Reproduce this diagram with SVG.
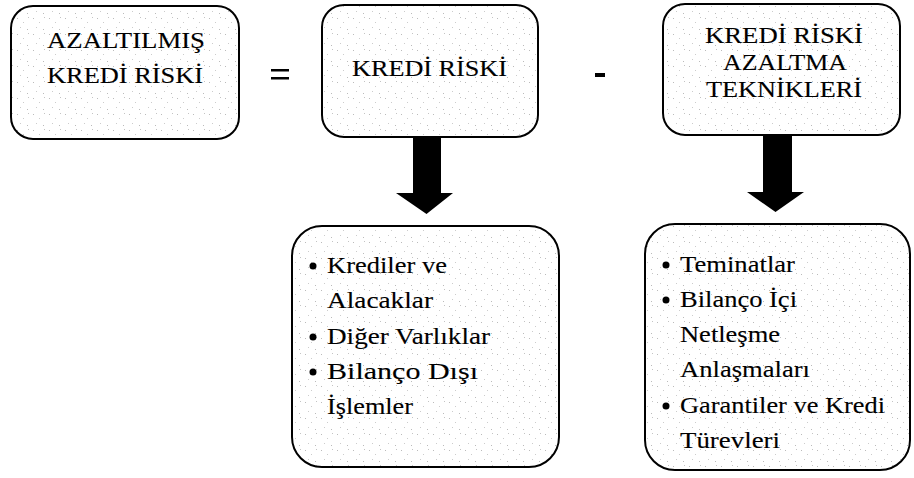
<svg xmlns="http://www.w3.org/2000/svg" width="914" height="478" viewBox="0 0 914 478">
<style>
.box{fill:url(#stip);stroke:#000;stroke-width:2}
.t{font-family:"Liberation Serif","DejaVu Serif","Times New Roman",serif;font-size:24px;fill:#000;stroke:#000;stroke-width:0.12}
.l{font-family:"Liberation Serif","DejaVu Serif","Times New Roman",serif;font-size:23px;fill:#000;stroke:#000;stroke-width:0.12}
.arrow{fill:#000}
.op{fill:#000}
</style>
<defs>
<pattern id="stip" width="16" height="16" patternUnits="userSpaceOnUse">
<rect width="16" height="16" fill="#fff"/>
<rect x="1" y="2" width="1" height="1" fill="#bbb"/>
<rect x="7" y="6" width="1" height="1" fill="#ccc"/>
<rect x="12" y="1" width="1" height="1" fill="#c4c4c4"/>
<rect x="4" y="11" width="1" height="1" fill="#ccc"/>
<rect x="11" y="13" width="1" height="1" fill="#bbb"/>
</pattern>
</defs>
<g id="node-azaltilmis">
<rect class="box" x="11" y="6" width="228" height="133" rx="22" ry="22"/>
<text class="t" x="47" y="48" textLength="158" lengthAdjust="spacingAndGlyphs">AZALTILMIŞ</text>
<text class="t" x="47" y="83" textLength="156" lengthAdjust="spacingAndGlyphs">KREDİ RİSKİ</text>
</g>
<g id="op-equals">
<rect class="op" x="271" y="69" width="18" height="2.5"/>
<rect class="op" x="271" y="77" width="18" height="2.5"/>
</g>
<g id="node-kredi-riski">
<rect class="box" x="322" y="5" width="216" height="132" rx="22" ry="22"/>
<text class="t" x="352" y="76" textLength="155" lengthAdjust="spacingAndGlyphs">KREDİ RİSKİ</text>
</g>
<g id="op-minus">
<rect class="op" x="595" y="73" width="10" height="4"/>
</g>
<g id="node-azaltma">
<rect class="box" x="663" y="4" width="237" height="131" rx="22" ry="22"/>
<text class="t" x="705" y="43" textLength="158" lengthAdjust="spacingAndGlyphs">KREDİ RİSKİ</text>
<text class="t" x="723" y="70" textLength="124" lengthAdjust="spacingAndGlyphs">AZALTMA</text>
<text class="t" x="706" y="97" textLength="156" lengthAdjust="spacingAndGlyphs">TEKNİKLERİ</text>
</g>
<g id="connectors">
<polygon class="arrow" points="413,137 441,137 441,193 453,193 426.5,214 396,193 413,193"/>
<polygon class="arrow" points="763,135 792,135 792,192 804,192 775.5,212 747,192 763,192"/>
</g>
<g id="node-kredi-list">
<rect class="box" x="292" y="226" width="267" height="241" rx="30" ry="30"/>
<circle cx="313" cy="266" r="3.5"/>
<circle cx="313" cy="337" r="3.5"/>
<circle cx="313" cy="372" r="3.5"/>
<text class="l" x="327" y="273" textLength="120" lengthAdjust="spacingAndGlyphs">Krediler ve</text>
<text class="l" x="327" y="308" textLength="106" lengthAdjust="spacingAndGlyphs">Alacaklar</text>
<text class="l" x="327" y="344" textLength="163" lengthAdjust="spacingAndGlyphs">Diğer Varlıklar</text>
<text class="l" x="327" y="379" textLength="151" lengthAdjust="spacingAndGlyphs">Bilanço Dışı</text>
<text class="l" x="327" y="414" textLength="86" lengthAdjust="spacingAndGlyphs">İşlemler</text>
</g>
<g id="node-azaltma-list">
<rect class="box" x="645" y="224" width="265" height="246" rx="30" ry="30"/>
<circle cx="666" cy="265" r="3.5"/>
<circle cx="666" cy="300" r="3.5"/>
<circle cx="666" cy="406" r="3.5"/>
<text class="l" x="680" y="272" textLength="115" lengthAdjust="spacingAndGlyphs">Teminatlar</text>
<text class="l" x="680" y="307" textLength="117" lengthAdjust="spacingAndGlyphs">Bilanço İçi</text>
<text class="l" x="680" y="342" textLength="100" lengthAdjust="spacingAndGlyphs">Netleşme</text>
<text class="l" x="680" y="377" textLength="130" lengthAdjust="spacingAndGlyphs">Anlaşmaları</text>
<text class="l" x="680" y="413" textLength="205" lengthAdjust="spacingAndGlyphs">Garantiler ve Kredi</text>
<text class="l" x="680" y="448" textLength="100" lengthAdjust="spacingAndGlyphs">Türevleri</text>
</g>
</svg>
